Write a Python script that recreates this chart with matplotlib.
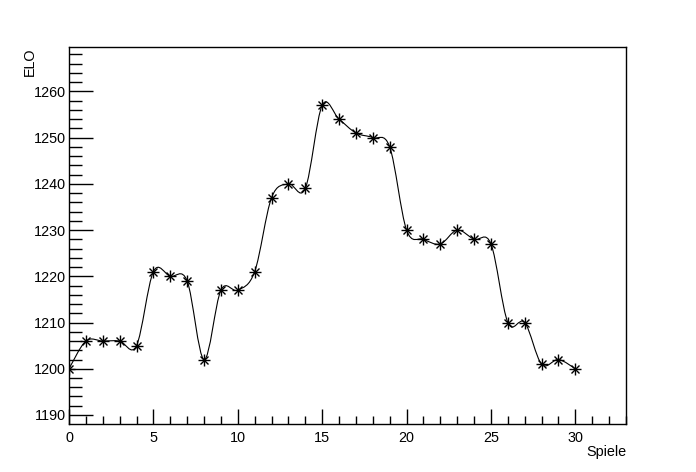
import matplotlib.pyplot as plt
from matplotlib.path import Path
from matplotlib.patches import PathPatch
from matplotlib.ticker import MultipleLocator

plt.rcParams['font.family'] = ['Liberation Sans', 'DejaVu Sans']

spiele = [0, 1, 2, 3, 4, 5, 6, 7, 8, 9, 10, 11, 12, 13, 14, 15,
          16, 17, 18, 19, 20, 21, 22, 23, 24, 25, 26, 27, 28, 29, 30]
elo = [1200, 1206, 1206, 1206, 1205, 1221, 1220, 1219, 1202, 1217, 1217,
       1221, 1237, 1240, 1239, 1257, 1254, 1251, 1250, 1248, 1230, 1228,
       1227, 1230, 1228, 1227, 1210, 1210, 1201, 1202, 1200]

fig = plt.figure(figsize=(6.96, 4.72), dpi=100)
ax = fig.add_axes([69/696, 1 - 424/472, (626 - 69)/696, (424 - 47)/472])

# smooth curve through the points (Catmull-Rom as cubic Bezier segments)
verts = [(spiele[0], elo[0])]
codes = [Path.MOVETO]
n = len(spiele)
for i in range(n - 1):
    p0 = (spiele[max(i - 1, 0)], elo[max(i - 1, 0)])
    p1 = (spiele[i], elo[i])
    p2 = (spiele[i + 1], elo[i + 1])
    p3 = (spiele[min(i + 2, n - 1)], elo[min(i + 2, n - 1)])
    c1 = (p1[0] + (p2[0] - p0[0]) / 6, p1[1] + (p2[1] - p0[1]) / 6)
    c2 = (p2[0] - (p3[0] - p1[0]) / 6, p2[1] - (p3[1] - p1[1]) / 6)
    verts += [c1, c2, p2]
    codes += [Path.CURVE4] * 3
ax.add_patch(PathPatch(Path(verts, codes), facecolor='none', edgecolor='black', lw=0.8))

ax.plot(spiele, elo, linestyle='none', marker='+', color='black', markersize=8, mew=1)
ax.plot(spiele, elo, linestyle='none', marker='x', color='black', markersize=6, mew=1)

ax.set_xlim(0, 33)
ax.set_ylim(1188.05, 1269.6)
ax.xaxis.set_major_locator(MultipleLocator(5))
ax.xaxis.set_minor_locator(MultipleLocator(1))
ax.yaxis.set_major_locator(MultipleLocator(10))
ax.yaxis.set_minor_locator(MultipleLocator(2))
ax.tick_params(which='both', direction='in', top=False, right=False, labelsize=10.4, width=1)
ax.tick_params(axis='x', which='major', length=11, pad=5)
ax.tick_params(axis='x', which='minor', length=5.5)
ax.tick_params(axis='y', which='major', length=17.5, pad=2)
ax.tick_params(axis='y', which='minor', length=9)
for s in ax.spines.values():
    s.set_linewidth(1)

ax.set_xlabel('Spiele', fontsize=10.4, loc='right')
ax.set_ylabel('ELO', fontsize=10.4, loc='top')
ax.xaxis.set_label_coords(1.0, -0.0557)
ax.yaxis.set_label_coords(-0.0575, 1.0)

fig.savefig('out.png', dpi=100)
